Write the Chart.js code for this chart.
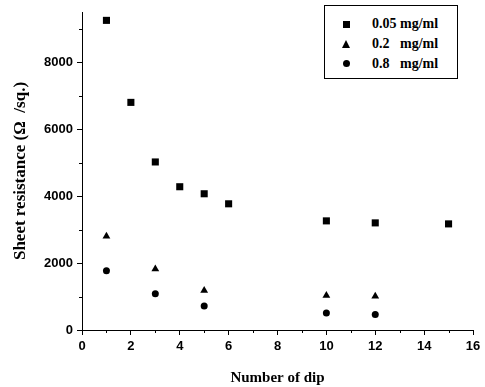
<!DOCTYPE html>
<html lang="en">
<head>
  <meta charset="UTF-8">
  <title>Sheet resistance vs number of dip</title>
  <script src="https://cdn.jsdelivr.net/npm/chart.js"></script>
  <style>
    body {
      margin: 0;
      background: #fff;
    }

    #contenedor {
      position: relative;
      width: 485px;
      height: 387px;
    }

    #leyenda {
      position: absolute;
      left: 324px;
      top: 5px;
      width: 134px;
      height: 74px;
      border: 1px solid #000;
      box-sizing: border-box;
      font-family: 'Liberation Serif', 'Times New Roman', serif;
      font-weight: bold;
      font-size: 14px;
      background: #fff;
    }

    .fila {
      position: absolute;
      left: 47px;
      white-space: pre;
      line-height: 16px;
    }

    .marca {
      position: absolute;
      left: 18px;
      background: #000;
    }
  </style>
</head>
<body>

<div id="contenedor">
  <canvas id="grafico" width="485" height="387"></canvas>
  <div id="leyenda">
    <div class="marca" style="top:15px;width:7px;height:7px;"></div>
    <div class="fila" style="top:10px;">0.05 mg/ml</div>
    <div class="marca" style="top:34px;left:17px;width:0;height:0;background:none;border-left:4.5px solid transparent;border-right:4.5px solid transparent;border-bottom:8px solid #000;"></div>
    <div class="fila" style="top:30px;">0.2   mg/ml</div>
    <div class="marca" style="top:54px;width:7px;height:7px;border-radius:50%;"></div>
    <div class="fila" style="top:50px;">0.8   mg/ml</div>
  </div>
</div>

<script>
  // Datos
  var dipsA = [1, 2, 3, 4, 5, 6, 10, 12, 15];
  var resA = [9250, 6800, 5020, 4280, 4070, 3770, 3260, 3200, 3170];

  var dipsB = [1, 3, 5, 10, 12];
  var resB = [2800, 1820, 1180, 1030, 1010];

  var dipsC = [1, 3, 5, 10, 12];
  var resC = [1770, 1080, 720, 510, 460];

  var etiquetas = ['0.05 mg/ml', '0.2 mg/ml', '0.8 mg/ml'];

  // Marcas de los ejes
  var marcasX = [0, 2, 4, 6, 8, 10, 12, 14, 16];
  var marcasY = [0, 2000, 4000, 6000, 8000];

  function puntos(xs, ys) {
    return xs.map(function (x, i) { return { x: x, y: ys[i] }; });
  }

  var fuenteTicks = { family: "'Liberation Sans', Arial, sans-serif", size: 13, weight: 'bold' };
  var fuenteTitulo = { family: "'Liberation Serif', 'Times New Roman', serif", size: 15, weight: 'bold' };

  // Marcas menores entre las marcas principales
  var marcasMenores = {
    id: 'marcasMenores',
    afterDraw: function (chart) {
      var c = chart.ctx;
      var sx = chart.scales.x;
      var sy = chart.scales.y;
      c.save();
      c.strokeStyle = '#000';
      c.lineWidth = 1;
      c.beginPath();
      for (var i = 0; i < marcasX.length - 1; i++) {
        var px = Math.round(sx.getPixelForValue((marcasX[i] + marcasX[i + 1]) / 2)) + 0.5;
        c.moveTo(px, sx.top);
        c.lineTo(px, sx.top + 3);
      }
      for (var j = 0; j < marcasY.length; j++) {
        var mid = marcasY[j] + (marcasY[1] - marcasY[0]) / 2;
        if (mid > sy.max) break;
        var py = Math.round(sy.getPixelForValue(mid)) + 0.5;
        c.moveTo(sy.right, py);
        c.lineTo(sy.right - 3, py);
      }
      c.stroke();
      c.restore();
    }
  };

  var ctx = document.getElementById('grafico').getContext('2d');

  new Chart(ctx, {
    type: 'scatter',
    data: {
      datasets: [
        { label: etiquetas[0], data: puntos(dipsA, resA), pointStyle: 'rect', pointRadius: 5, backgroundColor: '#000', borderColor: '#000', borderWidth: 0 },
        { label: etiquetas[1], data: puntos(dipsB, resB), pointStyle: 'triangle', pointRadius: 4.5, backgroundColor: '#000', borderColor: '#000', borderWidth: 0 },
        { label: etiquetas[2], data: puntos(dipsC, resC), pointStyle: 'circle', pointRadius: 3.5, backgroundColor: '#000', borderColor: '#000', borderWidth: 0 }
      ]
    },
    options: {
      responsive: false,
      animation: false,
      layout: { padding: { top: 12, right: 12, left: 0, bottom: 0 } },
      plugins: {
        legend: { display: false },
        tooltip: { enabled: false }
      },
      scales: {
        x: {
          type: 'linear',
          min: 0,
          max: 16,
          afterBuildTicks: function (s) {
            s.ticks = marcasX.map(function (v) { return { value: v }; });
          },
          ticks: {
            color: '#000',
            font: fuenteTicks,
            padding: 4,
            maxRotation: 0,
            autoSkip: false,
            callback: function (v) { return String(v); }
          },
          grid: { drawOnChartArea: false, tickLength: 5, color: '#000', tickColor: '#000' },
          border: { display: true, color: '#000', width: 1 },
          title: { display: true, text: 'Number of dip', color: '#000', font: fuenteTitulo, padding: { top: 8, bottom: 0 } },
          afterFit: function (s) { s.height = 57; }
        },
        y: {
          min: 0,
          max: 9500,
          afterBuildTicks: function (s) {
            s.ticks = marcasY.map(function (v) { return { value: v }; });
          },
          ticks: {
            color: '#000',
            font: fuenteTicks,
            padding: 4,
            autoSkip: false,
            callback: function (v) { return String(v); }
          },
          grid: { drawOnChartArea: false, tickLength: 5, color: '#000', tickColor: '#000' },
          border: { display: true, color: '#000', width: 1 },
          title: { display: true, text: 'Sheet resistance (Ω  /sq.)', color: '#000', font: { family: fuenteTitulo.family, size: 17, weight: 'bold' }, padding: { top: 10, bottom: 0 } },
          afterFit: function (s) { s.width = 82; }
        }
      }
    },
    plugins: [marcasMenores]
  });
</script>

</body>
</html>
